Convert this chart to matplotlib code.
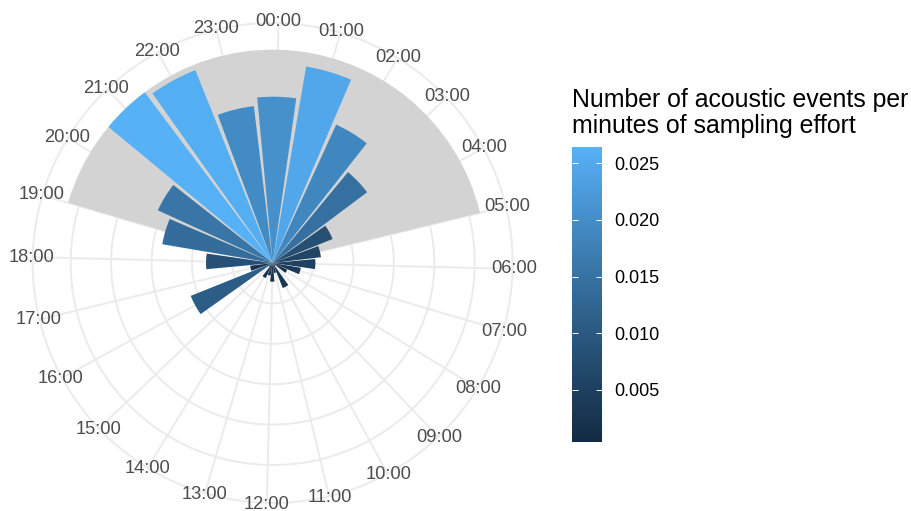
import numpy as np
import matplotlib
matplotlib.use('Agg')
import matplotlib.pyplot as plt
from matplotlib.colors import ListedColormap, Normalize
from matplotlib.cm import ScalarMappable

plt.rcParams['font.family'] = ['Liberation Sans', 'DejaVu Sans']

# data: acoustic events per minute of sampling effort, by hour of day
hours = list(range(24))
hour_labels = [f'{h:02d}:00' for h in hours]
events_per_min = [0.02058, 0.02467, 0.01884, 0.01460, 0.00798, 0.00601,
                  0.00528, 0.00353, 0.00198, 0.00044, 0.00334, 0.00124,
                  0.00231, 0.00158, 0.00205, 0.00060, 0.01093, 0.00281,
                  0.00825, 0.01386, 0.01564, 0.02640, 0.02572, 0.01955]
night_start, night_end = 19, 5
legend_ticks = [0.005, 0.010, 0.015, 0.020, 0.025]
legend_title = ['Number of acoustic events per', 'minutes of sampling effort']

# ggplot-like gradient (#132B43 -> #56B1F7) interpolated in CIELAB
M = np.array([[0.4124564, 0.3575761, 0.1804375],
              [0.2126729, 0.7151522, 0.0721750],
              [0.0193339, 0.1191920, 0.9503041]])
WHITE = np.array([0.95047, 1.0, 1.08883])


def hex_to_lab(h):
    rgb = np.array([int(h[i:i + 2], 16) for i in (1, 3, 5)]) / 255
    lin = np.where(rgb <= 0.04045, rgb / 12.92, ((rgb + 0.055) / 1.055) ** 2.4)
    xyz = M @ lin / WHITE
    f = np.where(xyz > 216 / 24389, np.cbrt(xyz), (24389 / 27 * xyz + 16) / 116)
    return np.array([116 * f[1] - 16, 500 * (f[0] - f[1]), 200 * (f[1] - f[2])])


def lab_to_rgb(lab):
    fy = (lab[0] + 16) / 116
    f = np.array([fy + lab[1] / 500, fy, fy - lab[2] / 200])
    xyz = np.where(f ** 3 > 216 / 24389, f ** 3, (116 * f - 16) / (24389 / 27)) * WHITE
    lin = np.clip(np.linalg.inv(M) @ xyz, 0, None)
    rgb = np.where(lin <= 0.0031308, 12.92 * lin, 1.055 * lin ** (1 / 2.4) - 0.055)
    return np.clip(rgb, 0, 1)


lo, hi = hex_to_lab('#132B43'), hex_to_lab('#56B1F7')
cmap = ListedColormap([lab_to_rgb(lo + t * (hi - lo)) for t in np.linspace(0, 1, 256)])
values = np.array(events_per_min)
norm = Normalize(values.min(), values.max())

# figure, polar panel placed in pixel units
W, H = 911, 511
fig = plt.figure(figsize=(W / 100, H / 100), dpi=100)
cx, cy, R = 272.7, 263, 240
ax = fig.add_axes([(cx - R) / W, (H - cy - R) / H, 2 * R / W, 2 * R / H], projection='polar')
ax.set_theta_zero_location('N')
ax.set_theta_direction(-1)

step = 2 * np.pi / 24
offset = np.deg2rad(1.4)
theta = offset + np.array(hours) * step
r_top = values.max()
r_outer = r_top * 0.45 / 0.4
ax.set_ylim(0, r_outer)

# night shading
n_night = 24 - night_start + night_end
ax.bar(offset + (night_start + n_night / 2) * step, r_top, width=n_night * step,
       color='#D3D3D3', linewidth=0, zorder=1)
# hourly bars
ax.bar(theta, values, width=0.9 * step, color=cmap(norm(values)), linewidth=0, zorder=2)

ax.set_xticks(theta)
ax.set_xticklabels([])
ax.set_yticks(legend_ticks)
ax.set_yticklabels([])
ax.tick_params(length=0)
ax.grid(True, color='#EBEBEB', linewidth=1.4)
ax.set_axisbelow(True)
ax.spines['polar'].set_color('#EBEBEB')
ax.spines['polar'].set_linewidth(1.4)
ax.set_facecolor('white')

for t, lab in zip(theta, hour_labels):
    ax.text(t, r_outer * 1.005, lab, ha='center', va='center', fontsize=13.2, color='#4D4D4D')

# colour legend
cax = fig.add_axes([572.3 / W, 1 - 441.7 / H, 29.4 / W, 294.4 / H])
cb = fig.colorbar(ScalarMappable(norm=norm, cmap=cmap), cax=cax)
cb.outline.set_visible(False)
cb.set_ticks(legend_ticks)
cb.ax.set_yticklabels([f'{v:.3f}' for v in legend_ticks])
cb.ax.tick_params(direction='in', length=4.3, width=0.7, color='white',
                  left=True, right=True, labelleft=False, labelright=True,
                  pad=9, labelsize=13, labelcolor='black')

fig.text(572 / W, 1 - 106.7 / H, legend_title[0], fontsize=17.9, va='baseline')
fig.text(572 / W, 1 - 132.7 / H, legend_title[1], fontsize=17.9, va='baseline')

fig.savefig('out.png', dpi=100, facecolor='white')
